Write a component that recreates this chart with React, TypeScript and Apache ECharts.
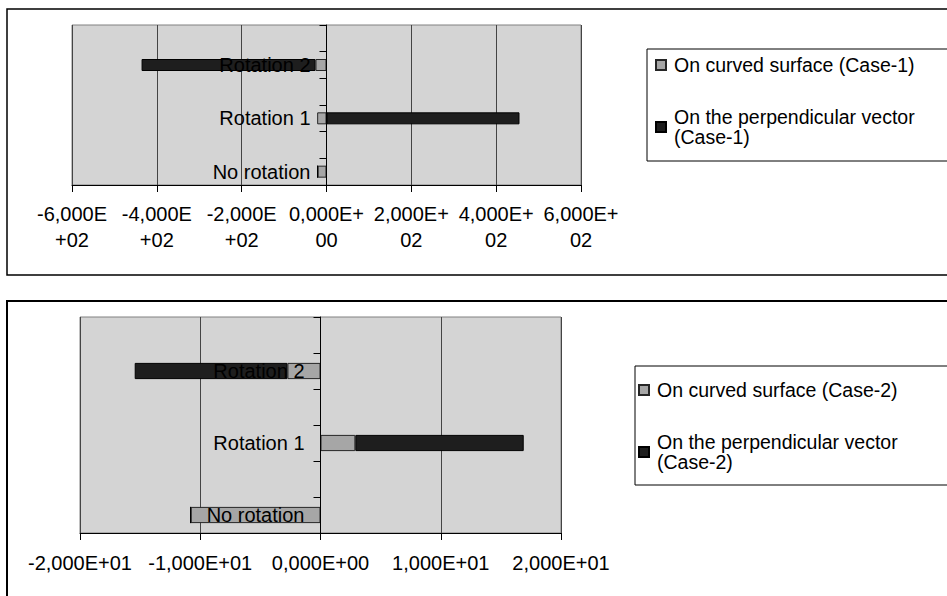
import React, { useEffect, useRef } from "react";
import * as echarts from "echarts";

// Categories listed bottom-to-top (blank rows sit between the labelled ones)
const categories = ["No rotation", "", "Rotation 1", "", "Rotation 2", ""];

// Case-1 (top chart)
const case1CurvedName = "On curved surface (Case-1)";
const case1PerpName = "On the perpendicular vector (Case-1)";
const case1Curved = [-21, null, -22, null, -26, null];
const case1Perp = [0, null, 455, null, -410, null];

// Case-2 (bottom chart)
const case2CurvedName = "On curved surface (Case-2)";
const case2PerpName = "On the perpendicular vector (Case-2)";
const case2Curved = [-10.8, null, 2.9, null, -2.75, null];
const case2Perp = [0, null, 14.0, null, -12.7, null];

// Value axis ranges and tick labels
const topMin = -600;
const topMax = 600;
const topInterval = 200;
const topTickLabels = [
  "-6,000E\n+02",
  "-4,000E\n+02",
  "-2,000E\n+02",
  "0,000E+\n00",
  "2,000E+\n02",
  "4,000E+\n02",
  "6,000E+\n02",
];
const bottomMin = -20;
const bottomMax = 20;
const bottomInterval = 10;
const bottomTickLabels = ["-2,000E+01", "-1,000E+01", "0,000E+00", "1,000E+01", "2,000E+01"];

const FONT = "'Liberation Sans', Arial, sans-serif";
const GRAY = "#a6a6a6";
const DARK = "#1e1e1e";

export default function App() {
  const ref = useRef<HTMLDivElement>(null);

  useEffect(() => {
    if (!ref.current) return;
    const chart = echarts.init(ref.current, null, { renderer: "svg" });

    const xAxisCommon = (min: number, max: number, interval: number, labels: string[], margin: number, lineHeight: number) => ({
      type: "value",
      min,
      max,
      interval,
      position: "bottom",
      axisLine: { show: true, onZero: false, lineStyle: { color: "#000", width: 1 } },
      axisTick: { show: true, length: 7, lineStyle: { color: "#000", width: 1 } },
      splitLine: { show: true, lineStyle: { color: "#444", width: 1 } },
      axisLabel: {
        formatter: (v: number) => labels[Math.round((v - min) / interval)] ?? "",
        fontSize: 20,
        lineHeight,
        margin,
        color: "#000",
        fontFamily: FONT,
      },
    });

    const yAxisCommon = (gridIndex: number) => ({
      type: "category",
      gridIndex,
      data: categories,
      position: "left",
      offset: 0,
      z: 10,
      axisLine: { show: true, onZero: false, lineStyle: { color: "#000", width: 1 } },
      axisTick: { show: true, length: 7, interval: 0, lineStyle: { color: "#000", width: 1 } },
      axisLabel: {
        interval: 0,
        margin: 16,
        fontSize: 20,
        color: "#000",
        fontFamily: FONT,
      },
      splitLine: { show: false },
    });

    const barSeries = (name: string, data: (number | null)[], color: string, border: string, idx: number, stack: string) => ({
      name,
      type: "bar",
      xAxisIndex: idx,
      yAxisIndex: idx,
      stack,
      data,
      barWidth: "45%",
      itemStyle: { color, borderColor: border, borderWidth: 1 },
    });

    const legendCommon = {
      orient: "vertical",
      itemGap: 32,
      itemWidth: 10,
      itemHeight: 10,
      icon: "rect",
      padding: 0,
      selectedMode: false,
      formatter: (n: string) => n.replace("vector (", "vector\n("),
      textStyle: { fontSize: 19.5, lineHeight: 20, color: "#000", fontFamily: FONT, padding: [0, 0, 0, 3] },
    };

    const grids = [
      { left: 72, top: 25, width: 509, height: 160 },
      { left: 80, top: 317, width: 481, height: 216 },
    ];

    chart.setOption({
      animation: false,
      backgroundColor: "#fff",
      textStyle: { fontFamily: FONT },
      grid: grids.map((g) => ({
        ...g,
        show: true,
        backgroundColor: "#d4d4d4",
        borderColor: "#808080",
        borderWidth: 1,
        containLabel: false,
        outerBoundsMode: "none",
      })),
      xAxis: [
        { gridIndex: 0, ...xAxisCommon(topMin, topMax, topInterval, topTickLabels, 16, 26) },
        { gridIndex: 1, ...xAxisCommon(bottomMin, bottomMax, bottomInterval, bottomTickLabels, 20, 20) },
      ],
      yAxis: [yAxisCommon(0), yAxisCommon(1)],
      legend: [
        { ...legendCommon, left: 655, top: 55, data: [case1CurvedName, case1PerpName] },
        { ...legendCommon, left: 638, top: 380, data: [case2CurvedName, case2PerpName] },
      ],
      series: [
        barSeries(case1CurvedName, case1Curved, GRAY, "#262626", 0, "c1"),
        barSeries(case1PerpName, case1Perp, DARK, "#000", 0, "c1"),
        barSeries(case2CurvedName, case2Curved, GRAY, "#262626", 1, "c2"),
        barSeries(case2PerpName, case2Perp, DARK, "#000", 1, "c2"),
      ],
      graphic: [
        { type: "rect", z: -1, silent: true, shape: { x: 7, y: 9, width: 1000, height: 266 }, style: { fill: "none", stroke: "#000", lineWidth: 1.5 } },
        { type: "rect", z: -1, silent: true, shape: { x: 7, y: 301, width: 1000, height: 400 }, style: { fill: "none", stroke: "#000", lineWidth: 2 } },
        { type: "rect", z: -1, silent: true, shape: { x: 647, y: 49, width: 400, height: 112 }, style: { fill: "none", stroke: "#000", lineWidth: 1 } },
        { type: "rect", z: -1, silent: true, shape: { x: 635, y: 366, width: 400, height: 119 }, style: { fill: "none", stroke: "#000", lineWidth: 1 } },
      ],
    });

    // Move each category axis (line, ticks, labels) onto the value axis zero
    const offsets = grids.map((g, i) => {
      const zeroX = chart.convertToPixel({ xAxisIndex: i }, 0) as number;
      return -(zeroX - g.left);
    });
    chart.setOption({
      yAxis: offsets.map((o) => ({ offset: o })),
    });

    return () => chart.dispose();
  }, []);

  return <div ref={ref} style={{ position: "fixed", left: 0, top: 0, width: 947, height: 596 }} />;
}
